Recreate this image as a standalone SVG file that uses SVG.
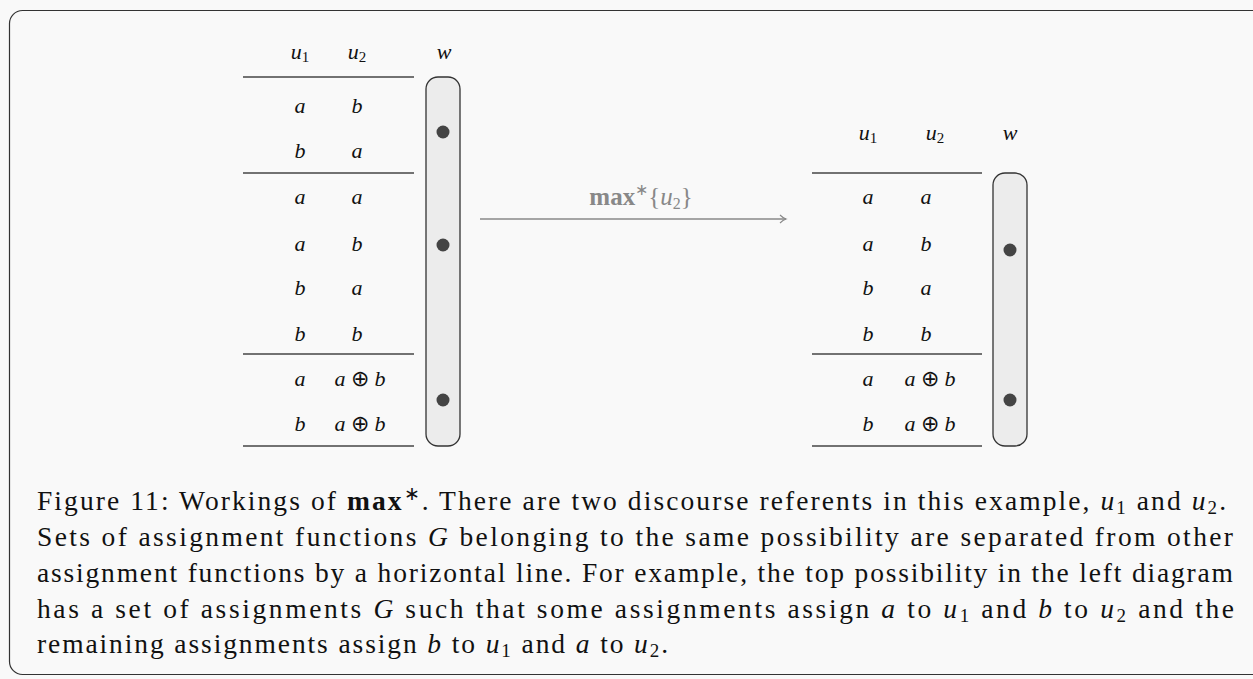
<svg xmlns="http://www.w3.org/2000/svg" width="1253" height="679" viewBox="0 0 1253 679">
<defs>
<style>
.m{font-family:"Liberation Serif",serif;font-style:italic;font-size:22px;fill:#111;text-anchor:middle}
.up{font-style:normal}
.rule{stroke:#444;stroke-width:1.3}
.pill{fill:#ececec;stroke:#333;stroke-width:1.3}
.dot{fill:#444}
.cap{font-family:"Liberation Serif",serif;font-size:27.5px;fill:#111}
.i{font-style:italic}
.s{font-size:19px}
</style>
<marker id="arr" markerWidth="12" markerHeight="12" refX="9" refY="5" orient="auto" markerUnits="userSpaceOnUse">
<path d="M3,1 Q6,4 9,5 Q6,6 3,9" fill="none" stroke="#888" stroke-width="1.1"/>
</marker>
</defs>
<rect x="0" y="0" width="1253" height="679" fill="#f9f9f9"/>
<rect x="9.5" y="10.5" width="1270" height="664" rx="13" fill="none" stroke="#333" stroke-width="1.2"/>

<g id="left-table">
<text class="m" x="300" y="59">u<tspan font-size="15" dy="3" class="up">1</tspan></text>
<text class="m" x="357" y="59">u<tspan font-size="15" dy="3" class="up">2</tspan></text>
<text class="m" x="444" y="59">w</text>
<line class="rule" x1="243" y1="77" x2="414" y2="77"/>
<text class="m" x="300" y="113">a</text><text class="m" x="357" y="113">b</text>
<text class="m" x="300" y="158">b</text><text class="m" x="357" y="158">a</text>
<line class="rule" x1="243" y1="173" x2="414" y2="173"/>
<text class="m" x="300" y="204">a</text><text class="m" x="357" y="204">a</text>
<text class="m" x="300" y="251">a</text><text class="m" x="357" y="251">b</text>
<text class="m" x="300" y="295">b</text><text class="m" x="357" y="295">a</text>
<text class="m" x="300" y="341">b</text><text class="m" x="357" y="341">b</text>
<line class="rule" x1="243" y1="354" x2="414" y2="354"/>
<text class="m" x="300" y="386">a</text><text class="m" x="360" y="386">a <tspan class="up">⊕</tspan> b</text>
<text class="m" x="300" y="431">b</text><text class="m" x="360" y="431">a <tspan class="up">⊕</tspan> b</text>
<line class="rule" x1="243" y1="446" x2="414" y2="446"/>
</g>
<g id="left-w">
<rect class="pill" x="426" y="77" width="34" height="369" rx="12"/>
<circle class="dot" cx="443" cy="132" r="6.5"/>
<circle class="dot" cx="443" cy="245" r="6.5"/>
<circle class="dot" cx="443" cy="400" r="6.5"/>
</g>

<g id="connectors">
<line x1="480" y1="219" x2="786" y2="219" stroke="#888" stroke-width="1.3" marker-end="url(#arr)"/>
<text x="641" y="205" font-family="Liberation Serif,serif" font-size="25" fill="#888" text-anchor="middle"><tspan font-weight="bold">max</tspan><tspan font-size="16" dy="-10">∗</tspan><tspan dy="10">{</tspan><tspan font-style="italic">u</tspan><tspan font-size="16" dy="4">2</tspan><tspan dy="-4">}</tspan></text>
</g>

<g id="right-table">
<text class="m" x="868" y="140">u<tspan font-size="15" dy="3" class="up">1</tspan></text>
<text class="m" x="935" y="140">u<tspan font-size="15" dy="3" class="up">2</tspan></text>
<text class="m" x="1010" y="140">w</text>
<line class="rule" x1="812" y1="173" x2="982" y2="173"/>
<text class="m" x="868" y="204">a</text><text class="m" x="926" y="204">a</text>
<text class="m" x="868" y="251">a</text><text class="m" x="926" y="251">b</text>
<text class="m" x="868" y="295">b</text><text class="m" x="926" y="295">a</text>
<text class="m" x="868" y="341">b</text><text class="m" x="926" y="341">b</text>
<line class="rule" x1="812" y1="354" x2="982" y2="354"/>
<text class="m" x="868" y="386">a</text><text class="m" x="930" y="386">a <tspan class="up">⊕</tspan> b</text>
<text class="m" x="868" y="431">b</text><text class="m" x="930" y="431">a <tspan class="up">⊕</tspan> b</text>
<line class="rule" x1="812" y1="446" x2="982" y2="446"/>
</g>
<g id="right-w">
<rect class="pill" x="993" y="173" width="34" height="273" rx="12"/>
<circle class="dot" cx="1010" cy="250" r="6.5"/>
<circle class="dot" cx="1010" cy="400" r="6.5"/>
</g>

<g id="caption">
<text class="cap" x="37" y="510" textLength="1189" lengthAdjust="spacing">Figure 11: Workings of <tspan font-weight="bold">max</tspan><tspan class="s" dy="-10">∗</tspan><tspan dy="10">.  There are two discourse referents in this example, </tspan><tspan class="i">u</tspan><tspan class="s" dy="4">1</tspan><tspan dy="-4"> and </tspan><tspan class="i">u</tspan><tspan class="s" dy="4">2</tspan><tspan dy="-4">.</tspan></text>
<text class="cap" x="37" y="546" textLength="1196" lengthAdjust="spacing">Sets of assignment functions <tspan class="i">G</tspan> belonging to the same possibility are separated from other</text>
<text class="cap" x="37" y="582" textLength="1196" lengthAdjust="spacing">assignment functions by a horizontal line. For example, the top possibility in the left diagram</text>
<text class="cap" x="37" y="618" textLength="1197" lengthAdjust="spacing">has a set of assignments <tspan class="i">G</tspan> such that some assignments assign <tspan class="i">a</tspan> to <tspan class="i">u</tspan><tspan class="s" dy="4">1</tspan><tspan dy="-4"> and </tspan><tspan class="i">b</tspan> to <tspan class="i">u</tspan><tspan class="s" dy="4">2</tspan><tspan dy="-4"> and the</tspan></text>
<text class="cap" x="37" y="653" textLength="631" lengthAdjust="spacing">remaining assignments assign <tspan class="i">b</tspan> to <tspan class="i">u</tspan><tspan class="s" dy="4">1</tspan><tspan dy="-4"> and </tspan><tspan class="i">a</tspan> to <tspan class="i">u</tspan><tspan class="s" dy="4">2</tspan><tspan dy="-4">.</tspan></text>
</g>
</svg>
